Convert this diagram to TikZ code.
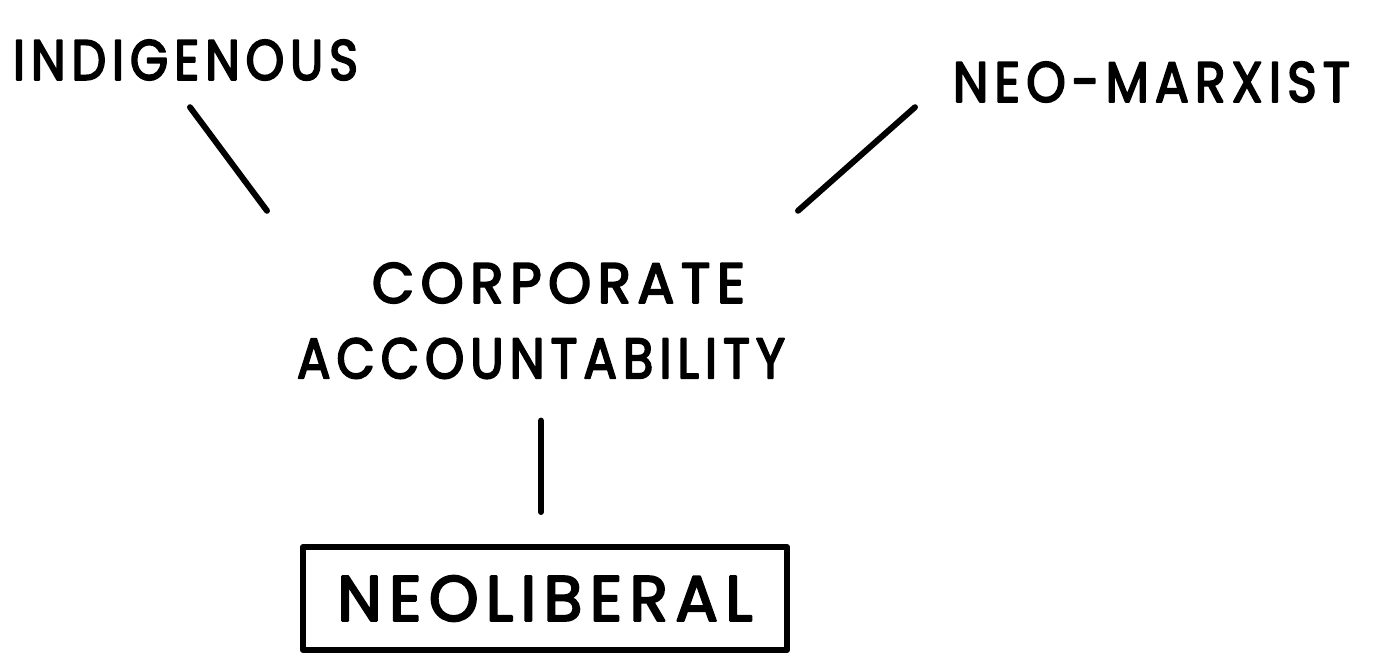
\documentclass[tikz,border=0pt]{standalone}
\usepackage{fontspec}
\usepackage{graphicx}
\usetikzlibrary{calc, positioning}

\newfontfamily\handfont[LetterSpace=12, FakeBold=3.5]{Poppins}
\newlength{\unitpx}\setlength{\unitpx}{0.02cm}
\newcommand{\hand}[3]{\resizebox{#1\unitpx}{#2\unitpx}{\handfont #3}}

\begin{document}
\begin{tikzpicture}[x=0.02cm, y=-0.02cm, line width=3.4pt, line cap=round, line join=round,
	word/.style={inner sep=0pt, outer sep=0pt},
	frame/.style={word, draw, minimum width=484\unitpx, minimum height=103\unitpx}]
	
	\useasboundingbox (0,0) rectangle (1384,655);
	
	% Two outer views
	\node[word] (indig) at (185.5,60) {\hand{345}{40}{INDIGENOUS}};
	\node[word] (marx) at (1151.5,82) {\hand{397}{40}{NEO-MARXIST}};
	
	% Middle view, two lines
	\node[word] (corp) at (558.5,283) {\hand{373}{40}{CORPORATE}};
	\node[word, below=0.7cm of corp, xshift=-0.35cm] (acct) {\hand{488}{40}{ACCOUNTABILITY}};
	
	% Boxed view at the bottom
	\node[frame] (neolib) at (545,598.5) {\hand{415}{45}{NEOLIBERAL}};
	
	% Links
	\draw ($(indig.south)+(4.5,27)$) -- ($(corp.north west)+(-105,-52)$);
	\draw ($(marx.south west)+(-38,5)$) -- ($(corp.north east)+(53,-52)$);
	\draw ($(acct.south)+(0,42)$) -- ($(neolib.north)+(-4,-35)$);
	
\end{tikzpicture}
\end{document}
